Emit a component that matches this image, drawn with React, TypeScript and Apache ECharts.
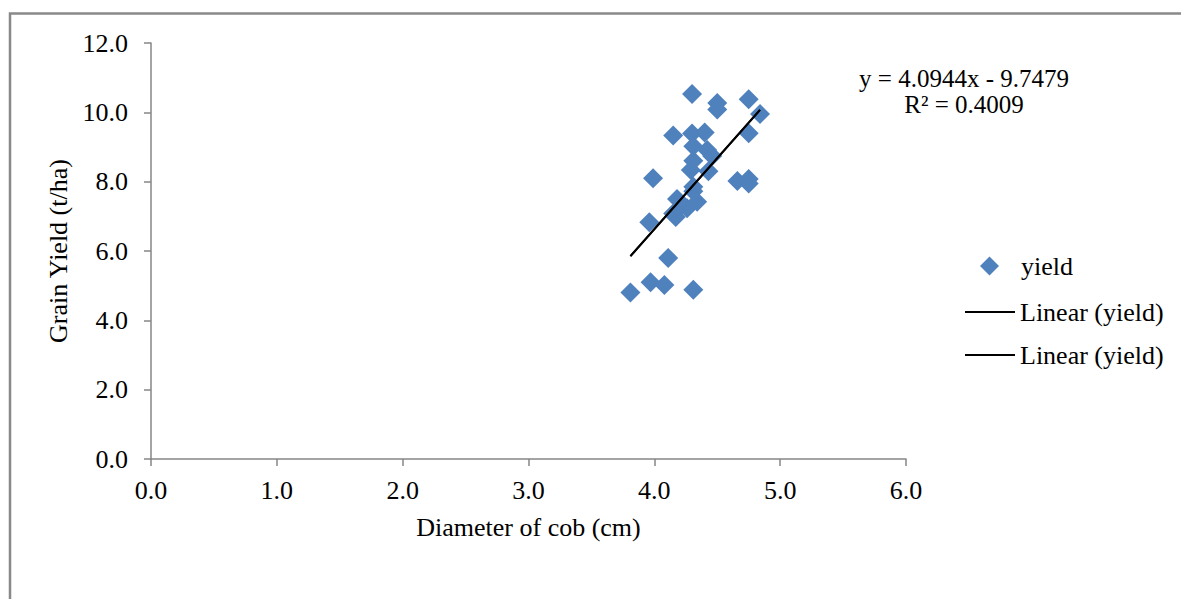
import React, { useEffect, useRef } from "react";
import * as echarts from "echarts";

const diameter = [3.81, 3.97, 4.08, 4.31, 4.11, 3.96, 3.99, 4.15, 4.17, 4.18, 4.26, 4.34, 4.31, 4.31, 4.29, 4.43, 4.66, 4.75, 4.75, 4.15, 4.30, 4.40, 4.31, 4.42, 4.46, 4.31, 4.30, 4.50, 4.50, 4.75, 4.84, 4.75];
const grainYield = [4.80, 5.10, 5.02, 4.88, 5.80, 6.83, 8.10, 7.08, 6.98, 7.50, 7.23, 7.42, 7.72, 7.85, 8.34, 8.30, 8.02, 8.08, 7.95, 9.33, 9.39, 9.42, 9.02, 8.91, 8.74, 8.60, 10.53, 10.27, 10.08, 10.38, 9.95, 9.40];
const slope = 4.0944;
const intercept = -9.7479;
const equationText = "y = 4.0944x - 9.7479";
const r2Text = "R² = 0.4009";
const xTitle = "Diameter of cob (cm)";
const yTitle = "Grain Yield (t/ha)";
const seriesName = "yield";
const trendName = "Linear (yield)";

const FONT = "'Liberation Serif', 'Times New Roman', serif";

export default function App() {
  const ref = useRef<HTMLDivElement>(null);
  useEffect(() => {
    document.body.style.margin = "0";
    const chart = echarts.init(ref.current!, null, { renderer: "svg" });
    const xMin = Math.min(...diameter);
    const xMax = Math.max(...diameter);
    const trend = [
      [xMin, slope * xMin + intercept],
      [xMax, slope * xMax + intercept],
    ];
    const axisColor = "#868686";
    chart.setOption({
      animation: false,
      backgroundColor: "#ffffff",
      textStyle: { fontFamily: FONT },
      grid: { left: 151, top: 43, width: 755, height: 416, containLabel: false },
      xAxis: {
        type: "value",
        min: 0,
        max: 6,
        interval: 1,
        name: xTitle,
        nameLocation: "middle",
        nameGap: 55,
        nameTextStyle: { fontFamily: FONT, fontSize: 26, color: "#000" },
        axisLine: { show: true, lineStyle: { color: axisColor, width: 1.5 } },
        axisTick: { show: true, inside: false, length: 7, lineStyle: { color: axisColor, width: 1.5 } },
        axisLabel: { formatter: (v: number) => v.toFixed(1), fontFamily: FONT, fontSize: 26, color: "#000", margin: 18 },
        splitLine: { show: false },
      },
      yAxis: {
        type: "value",
        min: 0,
        max: 12,
        interval: 2,
        name: yTitle,
        nameLocation: "middle",
        nameGap: 70,
        nameTextStyle: { fontFamily: FONT, fontSize: 26, color: "#000" },
        axisLine: { show: true, lineStyle: { color: axisColor, width: 1.5 } },
        axisTick: { show: true, inside: false, length: 7, lineStyle: { color: axisColor, width: 1.5 } },
        axisLabel: { formatter: (v: number) => v.toFixed(1), fontFamily: FONT, fontSize: 26, color: "#000", margin: 23 },
        splitLine: { show: false },
      },
      legend: [
        {
          data: [{ name: seriesName, icon: "diamond", itemStyle: { color: "#4F81BD", opacity: 1 } }],
          orient: "vertical",
          left: 980,
          top: 253,
          padding: 0,
          itemWidth: 19,
          itemHeight: 19,
          textStyle: { fontFamily: FONT, fontSize: 26, color: "#000", padding: [0, 0, 0, 17] },
          selectedMode: false,
        },
        {
          data: [
            { name: trendName, icon: "rect", itemStyle: { color: "#000" } },
            { name: trendName + "#2", icon: "rect", itemStyle: { color: "#000" } },
          ],
          formatter: (n: string) => n.replace("#2", ""),
          orient: "vertical",
          left: 965,
          top: 299,
          padding: 0,
          itemWidth: 50,
          itemHeight: 2,
          itemGap: 17,
          textStyle: { fontFamily: FONT, fontSize: 26, color: "#000", lineHeight: 26 },
          selectedMode: false,
        },
      ],
      graphic: [
        {
          type: "rect",
          silent: true,
          shape: { x: 10, y: 13.5, width: 1300, height: 700 },
          style: { fill: "none", stroke: "#898989", lineWidth: 2.5 },
        },
        {
          type: "text",
          x: 964,
          y: 78,
          style: { text: equationText, font: `25px ${FONT}`, fill: "#000", align: "center", verticalAlign: "middle" },
        },
        {
          type: "text",
          x: 964,
          y: 104,
          style: { text: r2Text, font: `25px ${FONT}`, fill: "#000", align: "center", verticalAlign: "middle" },
        },
      ],
      series: [
        {
          name: seriesName,
          type: "scatter",
          symbol: "diamond",
          symbolSize: 20,
          itemStyle: { color: "#4F81BD", opacity: 1 },
          data: diameter.map((x, i) => [x, grainYield[i]]),
          z: 2,
        },
        {
          name: trendName,
          type: "line",
          data: trend,
          showSymbol: false,
          symbol: "none",
          lineStyle: { color: "#000", width: 2 },
          itemStyle: { color: "#000" },
          z: 3,
        },
        {
          name: trendName + "#2",
          type: "line",
          data: trend,
          showSymbol: false,
          symbol: "none",
          lineStyle: { color: "#000", width: 2 },
          itemStyle: { color: "#000" },
          z: 3,
        },
      ],
    });
    return () => chart.dispose();
  }, []);
  return <div ref={ref} style={{ width: 1181, height: 599 }} />;
}
